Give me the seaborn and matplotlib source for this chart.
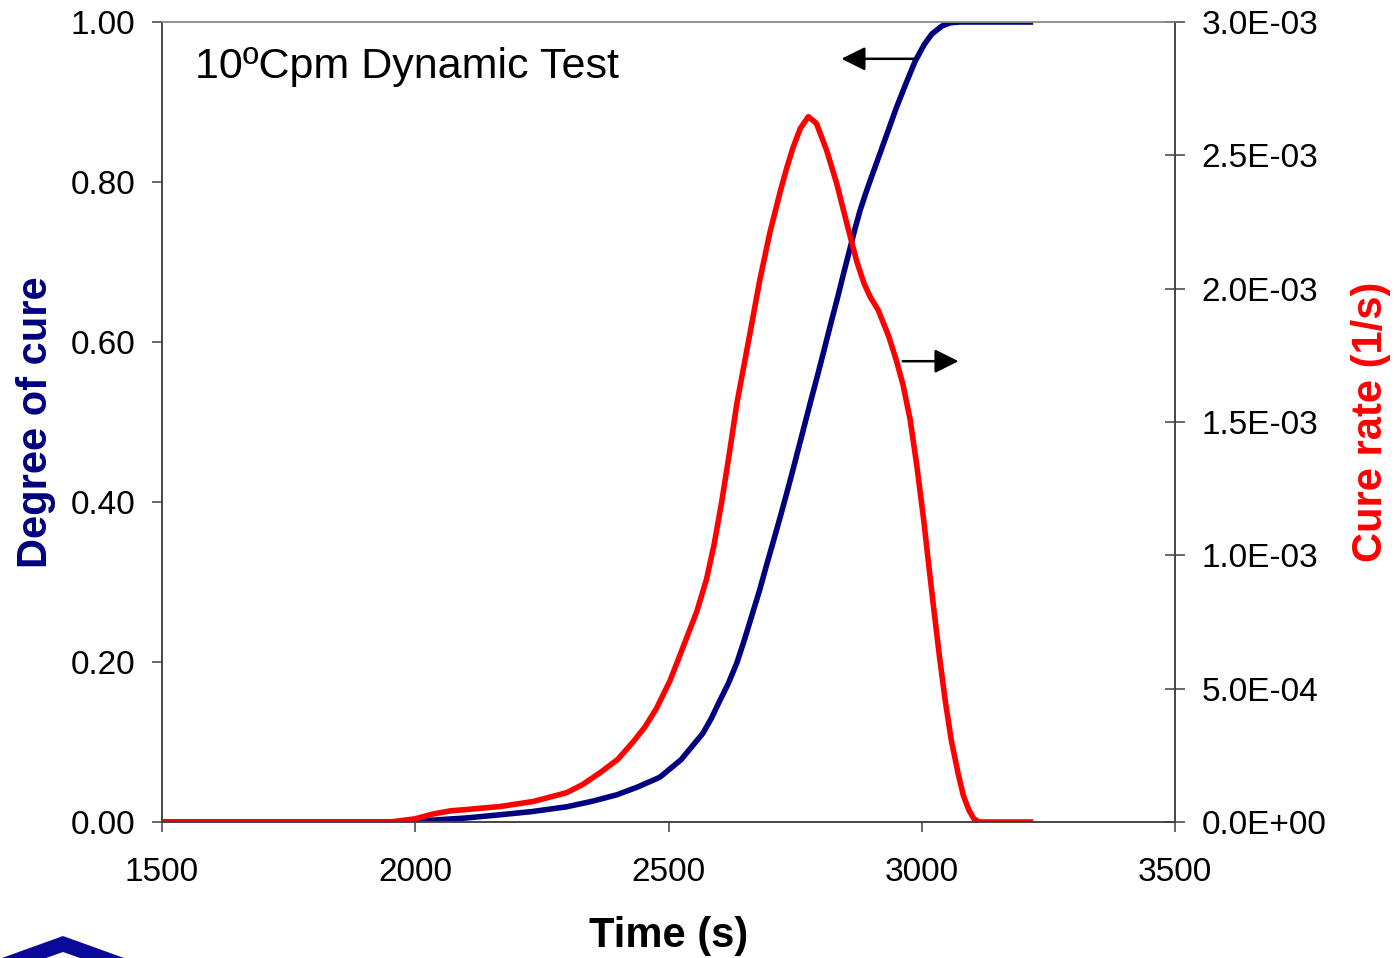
import matplotlib
matplotlib.use("Agg")
import matplotlib.pyplot as plt
from matplotlib.patches import Polygon
import seaborn as sns

# ---- data ----
time_alpha = [1500, 1950, 2000, 2050, 2100, 2167, 2230, 2299, 2350, 2398, 2440,
              2483, 2525, 2568, 2585, 2600, 2618, 2635, 2650, 2665, 2680, 2694,
              2708, 2720, 2733, 2746, 2764, 2782, 2795, 2808, 2820, 2833, 2845,
              2858, 2868, 2878, 2890, 2900, 2920, 2950, 2970, 2987, 3005, 3020,
              3040, 3056, 3075, 3220]
degree_of_cure = [0, 0, 0.001, 0.003, 0.005, 0.009, 0.013, 0.019, 0.026, 0.034, 0.044,
                  0.056, 0.078, 0.111, 0.130, 0.150, 0.173, 0.199, 0.228, 0.259, 0.290, 0.322,
                  0.353, 0.380, 0.410, 0.441, 0.485, 0.529, 0.560, 0.592, 0.622, 0.6535, 0.684,
                  0.716, 0.741, 0.764, 0.787, 0.805, 0.840, 0.893, 0.925, 0.951, 0.972, 0.985,
                  0.995, 0.999, 1.0, 1.0]

time_rate = [1500, 1950, 2000, 2035, 2070, 2102, 2167, 2233, 2299, 2330, 2365, 2400,
             2430, 2453, 2476, 2503, 2529, 2556, 2575, 2590, 2605, 2620, 2635, 2661,
             2680, 2700, 2720, 2733, 2746, 2760, 2776, 2792, 2812, 2832, 2852, 2872,
             2886, 2898, 2914, 2935, 2950, 2963, 2977, 2990, 3004, 3014, 3024, 3035,
             3046, 3058, 3072, 3082, 3093, 3103, 3113, 3220]
cure_rate = [0, 0, 0.012e-3, 0.030e-3, 0.042e-3, 0.047e-3, 0.058e-3, 0.077e-3, 0.110e-3,
             0.140e-3, 0.185e-3, 0.235e-3, 0.300e-3, 0.355e-3, 0.425e-3, 0.530e-3,
             0.657e-3, 0.790e-3, 0.910e-3, 1.040e-3, 1.200e-3, 1.380e-3, 1.570e-3,
             1.834e-3, 2.030e-3, 2.209e-3, 2.360e-3, 2.450e-3, 2.530e-3, 2.600e-3,
             2.645e-3, 2.620e-3, 2.520e-3, 2.395e-3, 2.245e-3, 2.100e-3, 2.020e-3,
             1.970e-3, 1.920e-3, 1.820e-3, 1.730e-3, 1.640e-3, 1.510e-3, 1.340e-3,
             1.130e-3, 0.960e-3, 0.795e-3, 0.620e-3, 0.460e-3, 0.310e-3, 0.180e-3,
             0.100e-3, 0.045e-3, 0.012e-3, 0.0, 0.0]

x_ticks = [1500, 2000, 2500, 3000, 3500]
left_ticks = [0.0, 0.2, 0.4, 0.6, 0.8, 1.0]
left_tick_labels = ["0.00", "0.20", "0.40", "0.60", "0.80", "1.00"]
right_ticks = [0.0, 0.5e-3, 1.0e-3, 1.5e-3, 2.0e-3, 2.5e-3, 3.0e-3]
right_tick_labels = ["0.0E+00", "5.0E-04", "1.0E-03", "1.5E-03", "2.0E-03", "2.5E-03", "3.0E-03"]

title_text = "10\u00baCpm Dynamic Test"
x_label = "Time (s)"
left_label = "Degree of cure"
right_label = "Cure rate (1/s)"

NAVY = "#000080"
RED = "#FF0000"
AXC = "#404040"

sns.set_theme(style="white")
plt.rcParams["font.family"] = ["Liberation Sans", "DejaVu Sans"]

W, H = 1395, 958
fig = plt.figure(figsize=(W / 100, H / 100), dpi=100)
ax = fig.add_axes([162 / W, (H - 822) / H, (1175 - 162) / W, 800 / H])
ax2 = ax.twinx()

sns.lineplot(x=time_alpha, y=degree_of_cure, ax=ax, color=NAVY, linewidth=4.0)
sns.lineplot(x=time_rate, y=cure_rate, ax=ax2, color=RED, linewidth=4.0)
for a in (ax, ax2):
    for ln in a.get_lines():
        ln.set_solid_joinstyle("round")
        ln.set_solid_capstyle("butt")

ax.set_xlim(1500, 3500)
ax.set_ylim(0, 1)
ax2.set_ylim(0, 3e-3)

ax.set_xticks(x_ticks)
ax.set_xticklabels([str(v) for v in x_ticks])
ax.set_yticks(left_ticks)
ax.set_yticklabels(left_tick_labels)
ax2.set_yticks(right_ticks)
ax2.set_yticklabels(right_tick_labels)

ax.tick_params(axis="x", direction="out", length=7, width=1.1, color=AXC,
               labelsize=24, pad=18, bottom=True, labelcolor="black")
ax.tick_params(axis="y", direction="out", length=7, width=1.1, color=AXC,
               labelsize=24, pad=12, left=True, labelcolor="black")
ax2.tick_params(axis="y", direction="inout", length=14, width=1.1, color=AXC,
                labelsize=24, pad=12, right=True, labelcolor="black")

for a in (ax, ax2):
    for side in ("left", "bottom", "right"):
        a.spines[side].set_color(AXC)
        a.spines[side].set_linewidth(1.1)
    a.spines["top"].set_color("#909090")
    a.spines["top"].set_linewidth(1.1)
    a.grid(False)

ax.set_xlabel(x_label, fontsize=30, fontweight="bold", color="black")
ax.xaxis.set_label_coords(0.5, -0.118)
ax.set_ylabel(left_label, fontsize=30, fontweight="bold", color=NAVY)
ax.yaxis.set_label_coords(-0.105, 0.5)
ax2.set_ylabel(right_label, fontsize=30, fontweight="bold", color=RED, rotation=90)
ax2.yaxis.set_label_coords(1.174, 0.5)

ax.text(0.0326, 0.944, title_text, transform=ax.transAxes, fontsize=31,
        va="center", ha="left", color="black")

ax.annotate("", xy=(2836, 0.954), xytext=(2990, 0.954),
            arrowprops=dict(arrowstyle="-|>", color="black", lw=1.8, mutation_scale=36))
ax.annotate("", xy=(3078, 0.576), xytext=(2957, 0.576),
            arrowprops=dict(arrowstyle="-|>", color="black", lw=1.8, mutation_scale=36))

# partial logo chevron at the bottom-left corner
pts = [(2, 958), (63, 936), (124, 958), (80, 958), (63, 952), (46, 958)]
fig.patches.append(Polygon([(x / W, (H - y) / H) for x, y in pts], closed=True,
                           transform=fig.transFigure, facecolor="#0A0A9A",
                           edgecolor="none", figure=fig))

fig.savefig("out.png", dpi=100, facecolor="white")
